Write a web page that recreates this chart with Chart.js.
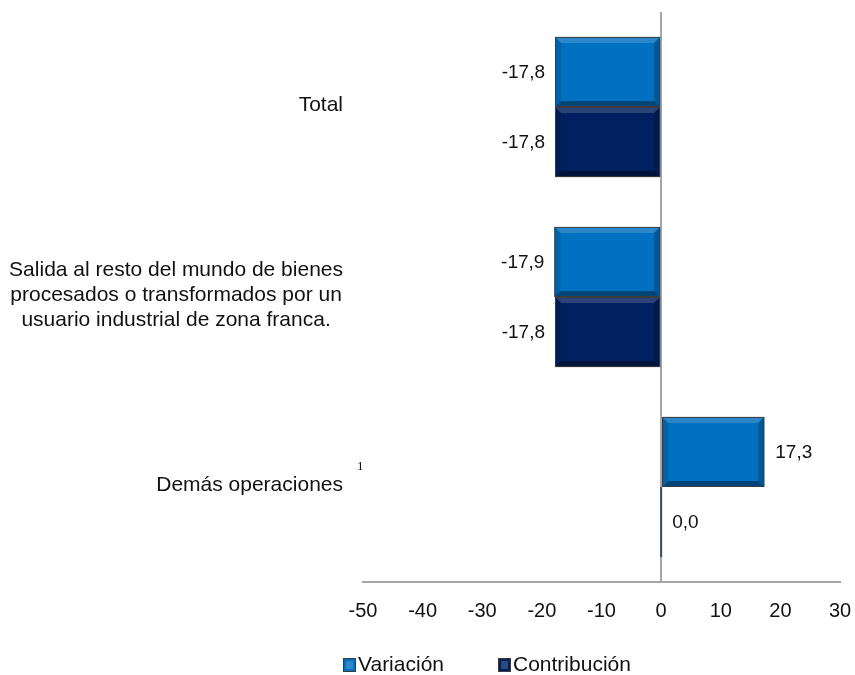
<!DOCTYPE html>
<html>
<head>
<meta charset="utf-8">
<script src="https://cdn.jsdelivr.net/npm/chart.js@4"></script>
<style>
  html, body { margin: 0; padding: 0; background: #fff; }
  canvas { display: block; }
</style>
</head>
<body>
<canvas id="barChart" width="855" height="675"></canvas>
<script>
// categories (multi-line) and footnote marks
const categories = [
  ['Total'],
  ['Salida al resto del mundo de bienes', 'procesados o transformados por un', 'usuario industrial de zona franca.'],
  ['Demás operaciones']
];
const footnotes = ['', '', '1'];

// series
const seriesNames = ['Variación', 'Contribución'];
const variacion = [-17.8, -17.9, 17.3];
const contribucion = [-17.8, -17.8, 0.0];

// x axis
const xMin = -50, xMax = 30, xStep = 10;

const colors = ['#0070c0', '#002060'];
const FONT = "'Liberation Sans', Arial, sans-serif";

const fmt = v => v.toFixed(1).replace('.', ',');

const barBox = el => {
  const p = el.getProps(['x', 'y', 'base', 'height'], true);
  return {
    left: Math.min(p.x, p.base), right: Math.max(p.x, p.base),
    top: p.y - p.height / 2, bottom: p.y + p.height / 2, y: p.y, x: p.x, base: p.base
  };
};

// bevelled look on bars, like the office "bevel" effect
const bevelPlugin = {
  id: 'bevel',
  afterDatasetsDraw(chart) {
    const ctx = chart.ctx;
    chart.data.datasets.forEach((ds, i) => {
      chart.getDatasetMeta(i).data.forEach(el => {
        const b = barBox(el);
        const w = b.right - b.left, h = b.bottom - b.top;
        ctx.save();
        if (w < 2) {
          ctx.fillStyle = '#3a4a6a';
          ctx.fillRect(b.base - 1, b.top, 2, h);
          ctx.restore();
          return;
        }
        const d = Math.min(6, w / 2);
        const quad = (pts, c) => {
          ctx.beginPath();
          ctx.moveTo(pts[0][0], pts[0][1]);
          for (let k = 1; k < pts.length; k++) ctx.lineTo(pts[k][0], pts[k][1]);
          ctx.closePath();
          ctx.fillStyle = c;
          ctx.fill();
        };
        quad([[b.left, b.top], [b.right, b.top], [b.right - d, b.top + d], [b.left + d, b.top + d]], 'rgba(255,255,255,0.16)');
        quad([[b.left, b.bottom], [b.right, b.bottom], [b.right - d, b.bottom - d], [b.left + d, b.bottom - d]], 'rgba(0,0,0,0.38)');
        quad([[b.left, b.top], [b.left + d, b.top + d], [b.left + d, b.bottom - d], [b.left, b.bottom]], 'rgba(0,0,0,0.12)');
        quad([[b.right, b.top], [b.right - d, b.top + d], [b.right - d, b.bottom - d], [b.right, b.bottom]], 'rgba(0,0,0,0.22)');
        ctx.strokeStyle = '#3c3c3c';
        ctx.lineWidth = 1;
        ctx.strokeRect(b.left + 0.5, b.top + 0.5, w - 1, h - 1);
        ctx.restore();
      });
    });
  }
};

// value labels next to the bar ends
const valueLabels = {
  id: 'valueLabels',
  afterDatasetsDraw(chart) {
    const ctx = chart.ctx;
    ctx.save();
    ctx.font = '19px ' + FONT;
    ctx.fillStyle = '#111';
    ctx.textBaseline = 'middle';
    chart.data.datasets.forEach((ds, i) => {
      chart.getDatasetMeta(i).data.forEach((el, j) => {
        const v = ds.data[j];
        const b = barBox(el);
        if (v < 0) {
          ctx.textAlign = 'right';
          ctx.fillText(fmt(v), b.left - 10, b.y + 1);
        } else {
          ctx.textAlign = 'left';
          ctx.fillText(fmt(v), b.right + 11, b.y + 1);
        }
      });
    });
    ctx.restore();
  }
};

// category labels: block right-aligned, lines centred inside the block
const categoryLabels = {
  id: 'categoryLabels',
  afterDraw(chart) {
    const ctx = chart.ctx, ys = chart.scales.y;
    const right = chart.chartArea.left - 20;
    ctx.save();
    ctx.fillStyle = '#111';
    ctx.textBaseline = 'middle';
    categories.forEach((lines, i) => {
      ctx.font = '21px ' + FONT;
      const cy = ys.getPixelForValue(i) - 2;
      const maxW = Math.max(...lines.map(l => ctx.measureText(l).width));
      const cx = right - maxW / 2;
      ctx.textAlign = 'center';
      lines.forEach((l, k) => {
        ctx.fillText(l, cx, cy + (k - (lines.length - 1) / 2) * 25);
      });
      if (footnotes[i]) {
        ctx.font = "13px 'Liberation Serif', 'Times New Roman', serif";
        ctx.textAlign = 'left';
        ctx.fillText(footnotes[i], right + 14, cy - 18);
      }
    });
    ctx.restore();
  }
};

// legend drawn by hand to follow the original spacing
const legendPlugin = {
  id: 'customLegend',
  afterDraw(chart) {
    const ctx = chart.ctx;
    const xs = [343, 498];
    const y = 665;
    ctx.save();
    ctx.font = '21px ' + FONT;
    ctx.textBaseline = 'middle';
    ctx.textAlign = 'left';
    seriesNames.forEach((name, i) => {
      const x = xs[i];
      ctx.fillStyle = colors[i];
      ctx.fillRect(x, y - 7, 13, 14);
      ctx.fillStyle = 'rgba(255,255,255,0.18)';
      ctx.fillRect(x + 3, y - 4, 7, 8);
      ctx.strokeStyle = '#3c3c3c';
      ctx.lineWidth = 1;
      ctx.strokeRect(x + 0.5, y - 6.5, 12, 13);
      ctx.fillStyle = '#111';
      ctx.fillText(name, x + 15, y);
    });
    ctx.restore();
  }
};

new Chart(document.getElementById('barChart').getContext('2d'), {
  type: 'bar',
  data: {
    labels: categories.map(c => c.join(' ')),
    datasets: [
      { label: seriesNames[0], data: variacion, backgroundColor: colors[0] },
      { label: seriesNames[1], data: contribucion, backgroundColor: colors[1] }
    ]
  },
  options: {
    indexAxis: 'y',
    responsive: false,
    animation: false,
    devicePixelRatio: 1,
    layout: { padding: { left: 363, right: 15, top: 12, bottom: 35 } },
    datasets: {
      bar: { categoryPercentage: 0.738, barPercentage: 1, borderWidth: 0 }
    },
    plugins: {
      legend: { display: false },
      tooltip: { enabled: false }
    },
    scales: {
      x: {
        min: xMin,
        max: xMax,
        afterFit: scale => { scale.paddingRight = 0; scale.paddingLeft = 0; },
        ticks: {
          stepSize: xStep,
          padding: 17,
          color: '#111',
          font: { size: 20, family: FONT }
        },
        grid: {
          drawTicks: false,
          lineWidth: 2,
          color: c => (c.tick && c.tick.value === 0 ? '#a6a6a6' : 'rgba(0,0,0,0)')
        },
        border: { display: true, color: '#a6a6a6', width: 2 }
      },
      y: {
        display: false
      }
    }
  },
  plugins: [bevelPlugin, valueLabels, categoryLabels, legendPlugin]
});
</script>
</body>
</html>
